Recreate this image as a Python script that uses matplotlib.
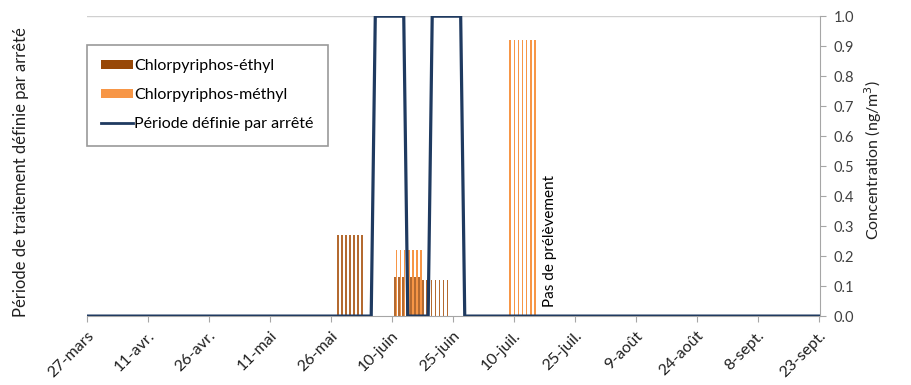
import numpy as np
import pandas as pd
import matplotlib
matplotlib.use("Agg")
import matplotlib.pyplot as plt
from matplotlib.patches import Patch
from matplotlib.lines import Line2D

plt.rcParams['font.family'] = ['Lato', 'DejaVu Sans']

# weekly samples (start date, concentration ng/m3), each shown as 7 daily columns
ethyl_start = ["2019-05-28", "2019-06-11", "2019-06-18"]
ethyl_vals = [0.27, 0.13, 0.12]
methyl_start = ["2019-06-11", "2019-07-09"]
methyl_vals = [0.22, 0.92]
sample_days = 7

# treatment period defined by decree (0/1)
period_dates = ["2019-03-27", "2019-06-05", "2019-06-06", "2019-06-13", "2019-06-14",
                "2019-06-19", "2019-06-20", "2019-06-27", "2019-06-28", "2019-09-24"]
period_vals = [0, 0, 1, 1, 0, 0, 1, 1, 0, 0]

tick_dates = pd.date_range("2019-03-27", periods=13, freq="15D")
tick_labels = ["27-mars", "11-avr.", "26-avr.", "11-mai", "26-mai", "10-juin", "25-juin",
               "10-juil.", "25-juil.", "9-août", "24-août", "8-sept.", "23-sept."]

c_ethyl = "#984807"
c_ethyl_bar = "#B46A30"
c_methyl = "#F79646"
c_line = "#1F3A60"
grey = "#A6A6A6"

def daily(starts, vals):
    d, v = [], []
    for s, val in zip(starts, vals):
        for k in range(sample_days):
            d.append(pd.Timestamp(s) + pd.Timedelta(days=k))
            v.append(val)
    return d, v

fig = plt.figure(figsize=(9.11, 3.85), dpi=100)
ax2 = fig.add_axes([0.095, 0.179, 0.805, 0.779])   # concentration (right)
ax = ax2.twinx()                                    # period (left)
ax.yaxis.tick_left()
ax.yaxis.set_label_position("left")
ax2.yaxis.tick_right()
ax2.yaxis.set_label_position("right")
ax.set_zorder(ax2.get_zorder() + 1)
ax.patch.set_visible(False)

off = pd.Timedelta(hours=5)
w = 0.42
d, v = daily(ethyl_start, ethyl_vals)
ax2.bar([x - off for x in d], v, width=w, color=c_ethyl_bar, linewidth=0)
d, v = daily(methyl_start, methyl_vals)
ax2.bar([x + off for x in d], v, width=w, color=c_methyl, linewidth=0)

ax.plot(pd.to_datetime(period_dates), period_vals, color=c_line, lw=2.3,
        solid_joinstyle='miter')

x0 = pd.Timestamp("2019-03-27")
x1 = pd.Timestamp("2019-09-23") + pd.Timedelta(hours=8)
for a in (ax, ax2):
    a.set_xlim(x0, x1)
    a.set_ylim(0, 1.0)
    for s in ("top", "left", "right", "bottom"):
        a.spines[s].set_visible(False)

ax2.axhline(1.0, color="#D0D0D0", lw=1, zorder=0)
ax2.spines["right"].set_visible(True)
ax2.spines["right"].set_color(grey)
ax2.spines["bottom"].set_visible(True)
ax2.spines["bottom"].set_color(grey)

ax2.set_yticks(np.arange(0, 1.01, 0.1))
ax2.set_yticklabels([f"{t:.1f}" for t in np.arange(0, 1.01, 0.1)])
ax2.tick_params(axis='y', colors=grey, labelcolor="#404040", labelsize=10.5,
                length=4, pad=6)
ax.set_yticks([])

ax2.set_xticks(tick_dates)
ax2.set_xticklabels(tick_labels, rotation=45, ha='right', rotation_mode='anchor')
ax2.tick_params(axis='x', colors=grey, labelcolor="#202020", labelsize=11.5,
                length=4, pad=5)
ax.tick_params(axis='x', bottom=False, labelbottom=False, top=False, labeltop=False)

ax.set_ylabel("Période de traitement définie par arrêté", fontsize=12,
              color="#202020")
ax.yaxis.set_label_coords(-0.078, 0.48)
ax2.set_ylabel("Concentration (ng/m$^3$)", fontsize=11.5, color="#202020")
ax2.yaxis.set_label_coords(1.058, 0.52)

ax.text(pd.Timestamp("2019-07-19"), 0.03, "Pas de prélèvement", rotation=90,
        ha='center', va='bottom', fontsize=11, color="#000000")

handles = [Patch(facecolor=c_ethyl, edgecolor='none'),
           Patch(facecolor=c_methyl, edgecolor='none'),
           Line2D([0], [0], color=c_line, lw=2)]
labels = ["Chlorpyriphos-éthyl", "Chlorpyriphos-méthyl", "Période définie par arrêté"]
leg = ax.legend(handles, labels, loc='upper left', bbox_to_anchor=(0.0, 0.905),
                borderaxespad=0, fancybox=False, frameon=True, fontsize=11.5,
                handlelength=2.0, handleheight=0.5, handletextpad=0.1,
                labelspacing=0.95, borderpad=0.9)
leg.get_frame().set_edgecolor("#808080")
leg.get_frame().set_linewidth(1.2)

fig.savefig("out.png", dpi=100)
